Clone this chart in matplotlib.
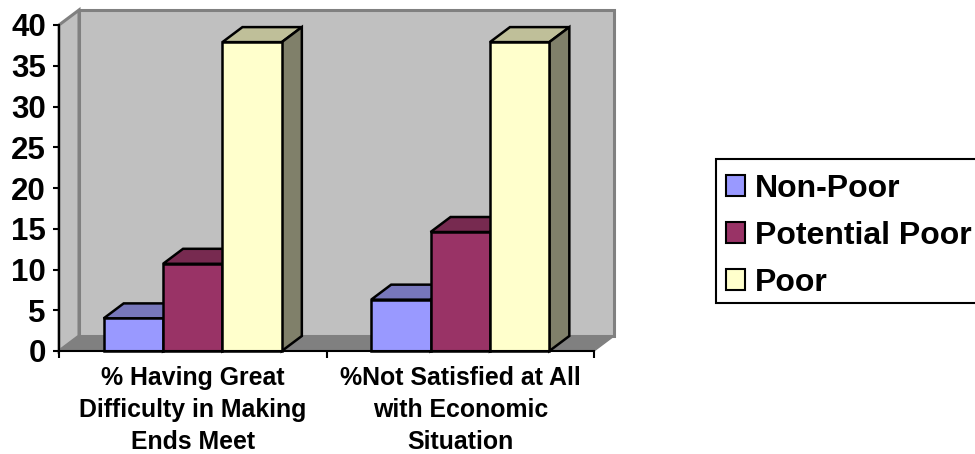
import matplotlib
matplotlib.use('Agg')
import matplotlib.pyplot as plt
from matplotlib.patches import Patch, Polygon

plt.rcParams['font.family'] = ['Liberation Sans', 'DejaVu Sans']
plt.rcParams['font.weight'] = 'bold'

categories = ['% Having Great\nDifficulty in Making\nEnds Meet',
              '%Not Satisfied at All\nwith Economic\nSituation']
series = ['Non-Poor', 'Potential Poor', 'Poor']
non_poor = [4.0, 6.3]
potential_poor = [10.7, 14.6]
poor = [37.9, 37.9]
yticks = [0, 5, 10, 15, 20, 25, 30, 35, 40]

front = ['#9999FF', '#993366', '#FFFFCC']
top = ['#7777BB', '#772A50', '#BFBF99']
side = ['#666699', '#66223F', '#80806A']

W, H = 975, 454
fig = plt.figure(figsize=(W / 100, H / 100), dpi=100)
ax = fig.add_axes([59 / W, 1 - 351 / H, 535 / W, 326 / H])
ax.set_xlim(0, 2)
ax.set_ylim(0, 40)
ax.patch.set_visible(False)

# depth of the fake 3d box, in data units
dx = 20 / 267.5
dy = 15 / 8.15
bar_w = 0.222


def poly(pts, fc, ec, lw=1.5, z=1):
    ax.add_patch(Polygon(pts, closed=True, facecolor=fc, edgecolor=ec,
                         linewidth=lw, clip_on=False, zorder=z, joinstyle='miter'))


# walls and floor
poly([(dx, dy), (2 + dx, dy), (2 + dx, 40 + dy), (dx, 40 + dy)], '#C0C0C0', '#808080', 2.2)
poly([(0, 0), (dx, dy), (dx, 40 + dy), (0, 40)], '#C0C0C0', '#808080', 2.2)
poly([(0, 0), (2, 0), (2 + dx, dy), (dx, dy)], '#808080', '#808080', 1)

# bars, left to right so each one covers the side of the previous
for c in range(len(categories)):
    vals = [non_poor[c], potential_poor[c], poor[c]]
    left = c + 0.5 - 1.5 * bar_w
    for i, v in enumerate(vals):
        x0 = left + i * bar_w
        x1 = x0 + bar_w
        poly([(x0, v), (x1, v), (x1 + dx, v + dy), (x0 + dx, v + dy)], top[i], 'black', 1.8, 3)
        poly([(x1, 0), (x1 + dx, dy), (x1 + dx, v + dy), (x1, v)], side[i], 'black', 1.8, 3)
        ax.bar(x0, v, bar_w, align='edge', color=front[i], edgecolor='black',
               linewidth=1.8, zorder=3, clip_on=False)

for s in ['top', 'right']:
    ax.spines[s].set_visible(False)
for s in ['left', 'bottom']:
    ax.spines[s].set_linewidth(1.5)
    ax.spines[s].set_zorder(5)

ax.set_yticks(yticks)
ax.tick_params(axis='y', labelsize=22.5, length=4.5, width=1.5, pad=5)
ax.set_xticks([0, 1, 2])
ax.set_xticklabels([])
ax.tick_params(axis='x', which='major', length=5, width=1.5)
ax.set_xticks([0.5, 1.5], minor=True)
ax.set_xticklabels(categories, minor=True, fontsize=17.9, linespacing=1.42)
ax.tick_params(axis='x', which='minor', length=0, pad=11)

handles = [Patch(facecolor=front[i], edgecolor='black', linewidth=1.5, label=series[i])
           for i in range(3)]
leg = fig.legend(handles=handles, loc='upper left', bbox_to_anchor=(716 / W, 1 - 159 / H),
                 borderaxespad=0, fontsize=23, frameon=True, fancybox=False, framealpha=1,
                 edgecolor='black', borderpad=0.3, labelspacing=0.54, handlelength=0.62,
                 handleheight=0.62, handletextpad=0.3)
leg.get_frame().set_linewidth(1.5)
# legend rows sit a little lower in the box than matplotlib puts them
for t in leg.get_texts():
    t.set_y(-5)
for h in leg.legend_handles:
    h.set_y(h.get_y() - 3.6)

fig.savefig('out.png', dpi=100)
